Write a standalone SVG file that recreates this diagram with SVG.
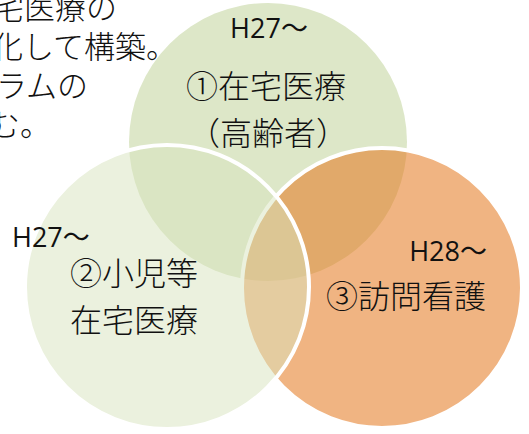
<svg xmlns="http://www.w3.org/2000/svg" width="529" height="434" viewBox="0 0 529 434">
  <style>
    .jp { font-family: "Noto Sans CJK JP", "Noto Sans", sans-serif; font-size: 32px; font-weight: 300; fill: #111; }
    .note { font-family: "Noto Sans CJK JP", "Noto Sans", sans-serif; font-size: 31px; font-weight: 300; fill: #111; }
    .yr { font-family: "Open Sans", "Noto Sans CJK JP", sans-serif; font-size: 27px; fill: #111; }
    .ring { stroke: #fff; stroke-width: 4; }
  </style>
  <rect width="529" height="434" fill="#fff"/>
  <g id="note">
    <text class="note" x="117" y="19" text-anchor="end">宅医療の</text>
    <text class="note" x="177" y="58" text-anchor="end">化して構築。</text>
    <text class="note" x="88" y="97" text-anchor="end">ラムの</text>
    <text class="note" x="51" y="136" text-anchor="end">む。</text>
  </g>
  <g id="circle-1">
    <circle cx="268" cy="142" r="139" fill="#DDE7C8"/>
    <text class="yr" x="269" y="38" text-anchor="middle">H27〜</text>
    <text class="jp" x="266" y="98" text-anchor="middle">①在宅医療</text>
    <text class="jp" x="268" y="145" text-anchor="middle">（高齢者）</text>
  </g>
  <g id="circle-3">
    <circle class="ring" cx="382" cy="288" r="140" fill="#E47920" fill-opacity="0.56"/>
    <text class="yr" x="487" y="261" text-anchor="end">H28〜</text>
    <text class="jp" x="406" y="308" text-anchor="middle">③訪問看護</text>
  </g>
  <g id="circle-2">
    <circle class="ring" cx="167" cy="287" r="142" fill="#D7E4BD" fill-opacity="0.5"/>
    <text class="yr" x="12" y="247">H27〜</text>
    <text class="jp" x="134" y="285" text-anchor="middle">②小児等</text>
    <text class="jp" x="134" y="332" text-anchor="middle">在宅医療</text>
  </g>
  <g id="connectors"/>
</svg>
